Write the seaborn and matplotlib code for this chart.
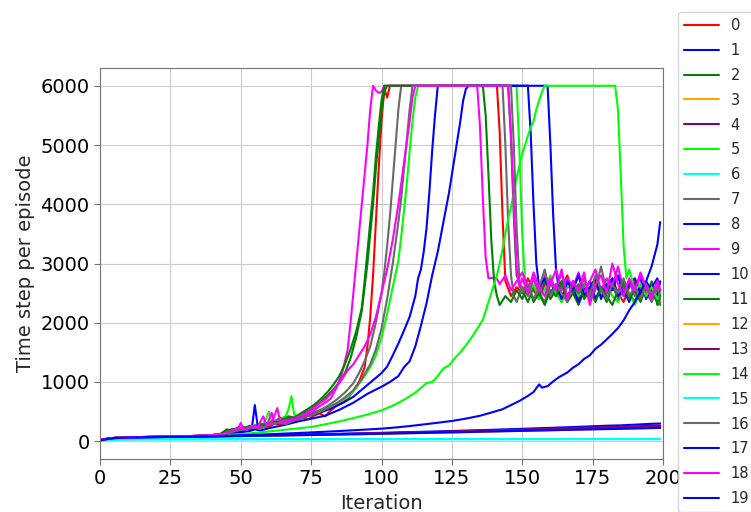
import matplotlib
matplotlib.use("Agg")
import matplotlib.pyplot as plt
import seaborn as sns

sns.set_style("whitegrid", {"axes.edgecolor": ".45", "grid.color": ".8",
                            "xtick.bottom": True, "ytick.left": True})
plt.rcParams['font.family'] = ['DejaVu Sans']

# time steps per episode for each run as {iteration: value}
run0 = {0: 20, 2: 38, 4: 52, 6: 60, 8: 64, 10: 67, 15: 71, 20: 75, 25: 79, 30: 84, 35: 92, 40: 105,
        44: 125, 46: 150, 48: 170, 50: 180, 52: 210, 54: 190, 56: 230, 58: 260, 60: 240, 62: 300,
        64: 280, 66: 330, 68: 310, 70: 360, 72: 390, 74: 370, 76: 430, 78: 470, 80: 420, 82: 520,
        84: 600, 86: 650, 88: 720, 90: 850, 92: 1000, 94: 1250, 95: 1600, 96: 2100, 97: 2800,
        98: 3700, 99: 4600, 100: 5400, 101: 5950, 102: 5800, 103: 6000, 141: 6000, 142: 5200,
        143: 3800, 144: 2700, 146: 2450, 148: 2600, 150: 2500, 152: 2750, 154: 2550, 156: 2400,
        158: 2650, 160: 2700, 162: 2450, 164: 2600, 166: 2800, 168: 2500, 170: 2400, 172: 2650,
        174: 2550, 176: 2700, 178: 2450, 180: 2600, 182: 2750, 184: 2500, 186: 2350, 188: 2600,
        190: 2700, 192: 2450, 194: 2550, 196: 2650, 198: 2400, 199: 2500}
run1 = {0: 15, 2: 34, 4: 48, 6: 56, 8: 61, 10: 64, 20: 71, 30: 78, 40: 86, 50: 94, 60: 102, 70: 111,
        80: 121, 90: 131, 100: 142, 110: 154, 120: 166, 130: 180, 140: 194, 150: 210, 160: 226,
        170: 243, 180: 262, 185: 268, 190: 280, 195: 292, 199: 300}
run2 = {0: 18, 2: 36, 4: 50, 6: 58, 8: 62, 10: 65, 15: 70, 20: 74, 25: 78, 30: 83, 35: 90, 40: 102,
        43: 120, 45: 160, 47: 210, 49: 190, 51: 240, 53: 215, 55: 270, 57: 250, 59: 310, 61: 280,
        63: 350, 65: 330, 67: 400, 69: 380, 71: 450, 73: 490, 75: 540, 77: 610, 79: 690, 81: 780,
        83: 880, 85: 1000, 87: 1150, 89: 1400, 91: 1750, 93: 2200, 94: 2600, 95: 3000, 96: 3500,
        97: 4000, 98: 4600, 99: 5100, 100: 5600, 101: 5900, 102: 6000, 145: 6000, 146: 5100,
        147: 3800, 148: 2800, 150: 2550, 152: 2350, 154: 2600, 156: 2450, 158: 2700, 160: 2400,
        162: 2550, 164: 2350, 166: 2650, 168: 2500, 170: 2300, 172: 2550, 174: 2700, 176: 2400,
        178: 2550, 180: 2350, 182: 2600, 184: 2450, 186: 2700, 188: 2500, 190: 2350, 192: 2600,
        194: 2450, 196: 2700, 198: 2300, 199: 2350}
run3 = {0: 12, 2: 30, 4: 44, 6: 52, 8: 57, 10: 60, 20: 66, 30: 72, 40: 79, 50: 86, 60: 93, 70: 101,
        80: 109, 90: 118, 100: 127, 110: 137, 120: 147, 130: 158, 140: 170, 150: 182, 160: 194,
        170: 207, 180: 220, 190: 232, 199: 245}
run4 = {0: 14, 2: 33, 4: 47, 6: 55, 8: 60, 10: 63, 20: 70, 30: 77, 40: 84, 50: 92, 60: 100, 70: 108,
        80: 117, 90: 126, 100: 136, 110: 146, 120: 158, 130: 170, 140: 183, 150: 196, 160: 210,
        170: 224, 180: 238, 190: 252, 199: 268}
run5 = {0: 20, 2: 37, 4: 51, 6: 59, 8: 63, 10: 66, 15: 70, 20: 74, 25: 78, 30: 83, 35: 90, 40: 100,
        44: 120, 47: 160, 50: 190, 53: 230, 56: 270, 58: 300, 59: 380, 60: 500, 61: 320, 64: 380,
        66: 420, 67: 550, 68: 760, 69: 450, 70: 430, 73: 460, 76: 490, 80: 560, 84: 640, 88: 740,
        91: 900, 94: 1100, 96: 1250, 98: 1450, 100: 1750, 102: 2150, 104: 2600, 106: 3050,
        107: 3450, 108: 3900, 109: 4350, 110: 4900, 111: 5400, 112: 5800, 113: 6000, 148: 6000,
        149: 4900, 150: 3500, 151: 2700, 152: 2500, 154: 2650, 156: 2400, 158: 2550, 160: 2800,
        162: 2500, 164: 2350, 166: 2600, 168: 2700, 170: 2450, 172: 2550, 174: 2350, 176: 2650,
        178: 2500, 180: 2700, 182: 2450, 184: 2350, 186: 2600, 188: 2500, 190: 2300, 192: 2550,
        194: 2650, 196: 2400, 198: 2550, 199: 2350}
run6 = {0: 8, 2: 18, 4: 23, 6: 26, 8: 27, 10: 28, 20: 29, 40: 30, 60: 31, 80: 31, 100: 32, 120: 32,
        140: 33, 160: 33, 180: 34, 199: 34}
run7 = {0: 20, 2: 38, 4: 52, 6: 60, 8: 64, 10: 67, 15: 71, 20: 75, 25: 79, 30: 84, 35: 92, 40: 104,
        44: 130, 47: 170, 50: 200, 53: 230, 56: 260, 59: 300, 62: 330, 64: 400, 66: 340, 69: 390,
        72: 420, 75: 470, 78: 520, 81: 600, 84: 700, 87: 820, 90: 980, 92: 1150, 94: 1350,
        96: 1600, 98: 2000, 100: 2500, 101: 2850, 102: 3300, 103: 3800, 104: 4400, 105: 5000,
        106: 5600, 107: 6000, 143: 6000, 144: 5000, 145: 3700, 146: 2800, 147: 2450, 148: 2350,
        150: 2600, 152: 2450, 154: 2750, 156: 2500, 158: 2350, 160: 2650, 162: 2550, 164: 2850,
        166: 2400, 168: 2600, 170: 2500, 172: 2750, 174: 2400, 176: 2550, 178: 2950, 180: 2500,
        182: 2650, 184: 2400, 186: 2550, 188: 2700, 190: 2450, 192: 2600, 194: 2500, 196: 2350,
        198: 2600, 199: 2300}
run8 = {0: 18, 2: 36, 4: 50, 6: 58, 8: 62, 10: 65, 15: 70, 20: 74, 25: 78, 30: 83, 35: 90, 40: 100,
        44: 118, 48: 150, 52: 200, 54: 240, 55: 610, 56: 260, 58: 250, 60: 290, 63: 320, 66: 350,
        70: 390, 74: 430, 78: 480, 82: 550, 86: 640, 90: 750, 95: 950, 100: 1150, 102: 1260,
        104: 1450, 106: 1650, 108: 1870, 110: 2100, 112: 2450, 113: 2750, 114: 2900, 115: 3200,
        116: 3600, 117: 4200, 118: 4900, 119: 5500, 120: 6000, 159: 6000, 160: 5000, 161: 3800,
        162: 2900, 163: 2550, 164: 2700, 166: 2450, 168: 2600, 170: 2350, 172: 2550, 174: 2700,
        176: 2400, 178: 2600, 180: 2500, 182: 2750, 184: 2450, 186: 2550, 188: 2350, 190: 2650,
        192: 2750, 194: 2400, 196: 2600, 198: 2750, 199: 2450}
run9 = {0: 22, 2: 40, 4: 53, 6: 61, 8: 65, 10: 68, 15: 72, 20: 76, 25: 80, 30: 85, 35: 93, 40: 106,
        44: 125, 47: 160, 49: 210, 50: 310, 51: 190, 53: 230, 55: 210, 57: 260, 59: 240, 61: 480,
        62: 290, 64: 330, 66: 310, 68: 380, 70: 420, 72: 400, 74: 460, 76: 520, 78: 590, 80: 650,
        82: 720, 84: 900, 86: 1150, 88: 1550, 89: 2000, 90: 2500, 91: 3000, 92: 3500, 93: 4000,
        94: 4500, 95: 5000, 96: 5600, 97: 6000, 98: 5920, 99: 5880, 100: 5900, 101: 6000,
        134: 6000, 135: 5300, 136: 4100, 137: 3100, 138: 2750, 140: 2760, 141: 2740, 142: 2650,
        144: 2800, 146: 2550, 148: 2700, 150: 2850, 152: 2600, 154: 2750, 156: 2500, 158: 2800,
        160: 2650, 162: 2900, 164: 2550, 166: 2750, 168: 2600, 170: 2850, 172: 2500, 174: 2700,
        176: 2900, 178: 2550, 180: 2750, 182: 2600, 184: 2950, 186: 2550, 188: 2700, 190: 2500,
        192: 2800, 194: 2600, 196: 2450, 198: 2700, 199: 2550}
run10 = {0: 16, 2: 35, 4: 49, 6: 57, 8: 61, 10: 64, 15: 69, 20: 73, 25: 77, 30: 82, 35: 89, 40: 99,
         45: 120, 50: 150, 53: 170, 55: 200, 57: 180, 60: 220, 63: 250, 66: 280, 70: 330, 75: 380,
         80: 430, 85: 530, 90: 650, 95: 800, 100: 920, 103: 1000, 106: 1100, 108: 1250, 110: 1350,
         112: 1600, 114: 1950, 116: 2330, 118: 2800, 120: 3200, 122: 3700, 124: 4200, 126: 4800,
         128: 5400, 129: 5750, 130: 5950, 131: 6000, 152: 6000, 153: 5200, 154: 4000, 155: 3000,
         156: 2600, 158: 2750, 160: 2500, 162: 2650, 164: 2400, 166: 2700, 168: 2550, 170: 2800,
         172: 2450, 174: 2600, 176: 2750, 178: 2400, 180: 2650, 182: 2550, 184: 2800, 186: 2450,
         188: 2650, 190: 2750, 192: 2500, 194: 2700, 196: 2550, 198: 2450, 199: 2700}
run11 = {0: 19, 2: 37, 4: 51, 6: 59, 8: 63, 10: 66, 15: 70, 20: 74, 25: 78, 30: 83, 35: 91, 40: 104,
         43: 130, 45: 200, 47: 180, 49: 230, 51: 210, 53: 260, 55: 240, 57: 290, 59: 270, 61: 330,
         63: 310, 65: 370, 67: 420, 69: 400, 71: 460, 73: 520, 75: 580, 77: 650, 79: 740, 81: 840,
         83: 960, 85: 1100, 87: 1300, 89: 1550, 91: 1850, 93: 2250, 94: 2700, 95: 3200, 96: 3700,
         97: 4200, 98: 4800, 99: 5300, 100: 5750, 101: 6000, 136: 6000, 137: 5500, 138: 4500,
         139: 3400, 140: 2700, 141: 2450, 142: 2300, 144: 2450, 146: 2350, 148: 2550, 150: 2400,
         152: 2650, 154: 2350, 156: 2500, 158: 2300, 160: 2550, 162: 2450, 164: 2700, 166: 2350,
         168: 2500, 170: 2650, 172: 2400, 174: 2550, 176: 2350, 178: 2600, 180: 2450, 182: 2300,
         184: 2550, 186: 2650, 188: 2400, 190: 2550, 192: 2350, 194: 2600, 196: 2500, 198: 2350,
         199: 2450}
run12 = {0: 13, 2: 31, 4: 45, 6: 53, 8: 58, 10: 61, 20: 67, 30: 73, 40: 79, 50: 85, 60: 92, 70: 99,
         80: 107, 90: 115, 100: 124, 110: 133, 120: 143, 130: 153, 140: 164, 150: 175, 160: 186,
         170: 198, 180: 208, 190: 218, 199: 228}
run13 = {0: 15, 2: 33, 4: 47, 6: 55, 8: 60, 10: 63, 20: 70, 30: 76, 40: 83, 50: 90, 60: 98, 70: 106,
         80: 115, 90: 124, 100: 134, 110: 144, 120: 155, 130: 166, 140: 178, 150: 190, 160: 203,
         170: 216, 180: 229, 190: 242, 199: 255}
run14 = {0: 18, 2: 35, 4: 49, 6: 57, 8: 61, 10: 64, 20: 72, 30: 80, 40: 92, 50: 120, 55: 140,
         60: 165, 65: 190, 70: 215, 75: 240, 80: 285, 85: 335, 90: 390, 95: 450, 100: 520, 104: 600,
         108: 700, 112: 820, 116: 980, 118: 1000, 120: 1100, 122: 1230, 124: 1280, 126: 1400,
         128: 1500, 130: 1620, 132: 1750, 134: 1900, 136: 2050, 137: 2200, 138: 2350, 139: 2500,
         140: 2650, 141: 2800, 142: 3000, 143: 3250, 144: 3500, 145: 3750, 146: 3950, 147: 4200,
         148: 4450, 149: 4650, 150: 4850, 151: 5000, 152: 5150, 153: 5300, 154: 5400, 155: 5600,
         156: 5750, 157: 5900, 158: 6000, 183: 6000, 184: 5600, 185: 4500, 186: 3300, 187: 2750,
         188: 2900, 190: 2550, 192: 2650, 194: 2450, 196: 2600, 198: 2400, 199: 2500}
run15 = {0: 10, 2: 22, 4: 28, 6: 32, 8: 34, 10: 35, 20: 36, 40: 37, 60: 38, 80: 38, 100: 39,
         120: 39, 140: 40, 160: 40, 180: 41, 199: 41}
run16 = {0: 19, 2: 37, 4: 51, 6: 59, 8: 63, 10: 66, 15: 70, 20: 74, 25: 78, 30: 83, 35: 90, 40: 101,
         45: 130, 48: 170, 51: 200, 54: 230, 57: 210, 60: 280, 63: 310, 66: 290, 69: 350, 72: 390,
         75: 440, 78: 490, 81: 560, 84: 640, 87: 740, 90: 860, 93: 1050, 96: 1300, 98: 1550,
         100: 1900, 102: 2400, 104: 3000, 106: 3700, 107: 4100, 108: 4600, 109: 5100, 110: 5600,
         111: 6000, 146: 6000, 147: 5000, 148: 3600, 149: 2700, 150: 2500, 152: 2650, 154: 2400,
         156: 2600, 158: 2900, 160: 2450, 162: 2650, 164: 2500, 166: 2350, 168: 2700, 170: 2500,
         172: 2650, 174: 2450, 176: 2800, 178: 2550, 180: 2400, 182: 2650, 184: 2500, 186: 2750,
         188: 2450, 190: 2600, 192: 2400, 194: 2650, 196: 2500, 198: 2600, 199: 2400}
run17 = {0: 16, 2: 34, 4: 48, 6: 56, 8: 60, 10: 63, 20: 70, 30: 77, 40: 85, 50: 100, 60: 118,
         70: 138, 80: 160, 90: 185, 100: 212, 105: 232, 110: 256, 115: 284, 120: 312, 125: 342,
         130: 382, 135: 430, 140: 498, 143: 540, 146: 610, 149: 680, 152: 765, 154: 830, 156: 960,
         157: 905, 159: 930, 161: 1010, 163: 1080, 166: 1160, 168: 1240, 170: 1300, 172: 1390,
         174: 1450, 176: 1560, 178: 1630, 180: 1720, 182: 1810, 184: 1910, 186: 2040, 188: 2210,
         190: 2350, 192: 2520, 194: 2700, 196: 2960, 198: 3320, 199: 3700}
run18 = {0: 21, 2: 39, 4: 52, 6: 60, 8: 64, 10: 67, 15: 71, 20: 75, 25: 79, 30: 84, 35: 92, 40: 104,
         44: 125, 46: 160, 48: 200, 50: 230, 52: 200, 54: 260, 56: 240, 58: 420, 59: 280, 61: 310,
         63: 560, 64: 320, 66: 360, 68: 340, 70: 400, 72: 440, 74: 500, 76: 560, 78: 640, 80: 700,
         82: 800, 84: 920, 86: 1050, 88: 1200, 90: 1300, 92: 1450, 94: 1600, 96: 1800, 98: 2100,
         100: 2500, 102: 2900, 104: 3400, 106: 4000, 108: 4700, 110: 5400, 111: 5800, 112: 6000,
         145: 6000, 146: 5200, 147: 4000, 148: 2900, 149: 2600, 150: 2750, 152: 2500, 154: 2850,
         156: 2600, 158: 2450, 160: 2750, 162: 2550, 164: 2900, 166: 2400, 168: 2700, 170: 2550,
         172: 2850, 174: 2300, 176: 2650, 178: 2800, 180: 2500, 182: 3000, 184: 2650, 186: 2450,
         188: 2750, 190: 2550, 192: 2850, 194: 2600, 196: 2400, 198: 2700, 199: 2550}
run19 = {0: 14, 2: 32, 4: 46, 6: 54, 8: 59, 10: 62, 20: 69, 30: 75, 40: 82, 50: 88, 60: 95, 70: 102,
         80: 110, 90: 118, 100: 127, 110: 136, 120: 145, 130: 155, 140: 165, 150: 175, 160: 185,
         170: 195, 180: 205, 190: 215, 199: 225}

runs = [run0, run1, run2, run3, run4, run5, run6, run7, run8, run9,
        run10, run11, run12, run13, run14, run15, run16, run17, run18, run19]
colors = ['red', 'blue', 'green', 'orange', 'purple', 'lime', 'cyan', 'dimgray', 'blue', 'magenta',
          'blue', 'green', 'orange', 'purple', 'lime', 'cyan', 'dimgray', 'blue', 'magenta', 'blue']

fig = plt.figure(figsize=(7.51, 5.12), dpi=100)
ax = fig.add_axes([100 / 751, 1 - 459 / 512, 563 / 751, 391 / 512])

for i, run in enumerate(runs):
    sns.lineplot(x=list(run.keys()), y=list(run.values()), color=colors[i], label=str(i),
                 linewidth=1.5, estimator=None, sort=False, ax=ax)

ax.set_xlim(0, 200)
ax.set_ylim(-300, 6300)
ax.set_xticks([0, 25, 50, 75, 100, 125, 150, 175, 200])
ax.set_yticks([0, 1000, 2000, 3000, 4000, 5000, 6000])
ax.tick_params(labelsize=14, color='.45', length=4, labelcolor='black')
ax.set_xlabel('Iteration', fontsize=14)
ax.set_ylabel('Time step per episode', fontsize=14)

ax.legend(loc='upper left', bbox_to_anchor=(678 / 751, 1 - 12 / 512), bbox_transform=fig.transFigure,
          borderaxespad=0, fontsize=10.5, labelspacing=0.68, handlelength=2.4, frameon=True)

fig.savefig('out.png', dpi=100)
